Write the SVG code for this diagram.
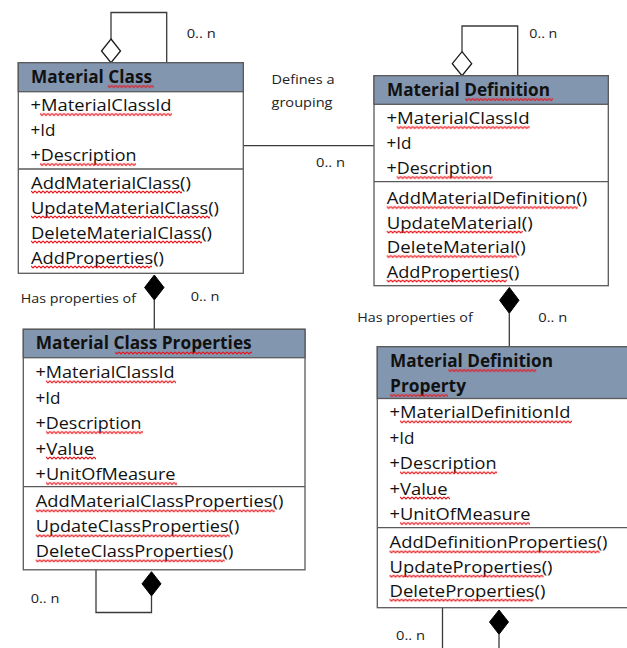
<svg xmlns="http://www.w3.org/2000/svg" width="627" height="648" viewBox="0 0 627 648">
  <defs>
    <!-- red wavy spell-check underline, tiled -->
    <pattern id="squig" width="4" height="4" patternUnits="userSpaceOnUse">
      <path d="M0,1 L2,3 L4,1" fill="none" stroke="#e8141a" stroke-width="1.1"/>
    </pattern>
    <style>
      .box { fill: #ffffff; stroke: #5a5a5a; stroke-width: 1.3; }
      .head { fill: #8396b0; stroke: #5a5a5a; stroke-width: 1.3; }
      .sep { stroke: #5a5a5a; stroke-width: 1.3; }
      .ln { fill: none; stroke: #3a3a3a; stroke-width: 1.3; }
      .agg { fill: #ffffff; stroke: #1a1a1a; stroke-width: 1.3; }
      .comp { fill: #000000; stroke: #000000; stroke-width: 1; }
      text { font-family: "Open Sans", "Liberation Sans", sans-serif; fill: #111111; }
      .h { font-size: 17.5px; font-weight: bold; }
      .a { font-size: 16.8px; }
      .l { font-size: 13.5px; fill: #222222; }
      .sq { fill: url(#squig); }
    </style>
  </defs>

  <!-- connectors -->
  <g id="connectors">
    <polyline class="ln" points="111,39 111,12.5 166.7,12.5 166.7,62.7"/>
    <polygon class="agg" points="111,39 120.5,51 111,62.7 101.5,51"/>
    <polyline class="ln" points="462,51.7 462,26 517.7,26 517.7,75.7"/>
    <polygon class="agg" points="462,51.7 471.7,63.7 462,75.7 452.3,63.7"/>
    <line class="ln" x1="243.3" y1="145.7" x2="374" y2="145.7"/>
    <line class="ln" x1="154.3" y1="300" x2="154.3" y2="329.3"/>
    <polygon class="comp" points="154.3,275 164,287.5 154.3,300 144.6,287.5"/>
    <line class="ln" x1="509.3" y1="313.3" x2="509.3" y2="346.7"/>
    <polygon class="comp" points="509.3,287.5 519,300.3 509.3,313.3 499.6,300.3"/>
    <polyline class="ln" points="96,570 96,612.5 151.5,612.5 151.5,596"/>
    <polygon class="comp" points="151.5,571.7 161,583.8 151.5,596 142,583.8"/>
    <line class="ln" x1="442.5" y1="607.7" x2="442.5" y2="648"/>
    <line class="ln" x1="499" y1="634.3" x2="499" y2="648"/>
    <polygon class="comp" points="499,610 508.5,622 499,634.3 489.5,622"/>

    <text class="l" x="186.7" y="38" textLength="29" lengthAdjust="spacingAndGlyphs">0.. n</text>
    <text class="l" x="271.5" y="84.3" textLength="63" lengthAdjust="spacingAndGlyphs">Defines a</text>
    <text class="l" x="271.5" y="106.5" textLength="61" lengthAdjust="spacingAndGlyphs">grouping</text>
    <text class="l" x="316" y="166.7" textLength="29" lengthAdjust="spacingAndGlyphs">0.. n</text>
    <text class="l" x="529.3" y="38.3" textLength="28" lengthAdjust="spacingAndGlyphs">0.. n</text>
    <text class="l" x="20.7" y="303.3" textLength="115.3" lengthAdjust="spacingAndGlyphs">Has properties of</text>
    <text class="l" x="190.7" y="300.7" textLength="28.6" lengthAdjust="spacingAndGlyphs">0.. n</text>
    <text class="l" x="357.3" y="322.3" textLength="115.4" lengthAdjust="spacingAndGlyphs">Has properties of</text>
    <text class="l" x="538.3" y="322" textLength="29" lengthAdjust="spacingAndGlyphs">0.. n</text>
    <text class="l" x="30.7" y="602.7" textLength="28.6" lengthAdjust="spacingAndGlyphs">0.. n</text>
    <text class="l" x="396" y="640" textLength="29" lengthAdjust="spacingAndGlyphs">0.. n</text>
  </g>

  <!-- Material Class -->
  <g id="material-class">
    <rect class="box" x="18.3" y="62.7" width="225" height="210.6"/>
    <rect class="head" x="18.3" y="62.7" width="225" height="29"/>
    <line class="sep" x1="18.3" y1="169" x2="243.3" y2="169"/>
    <text class="h" x="31" y="82.8" textLength="121" lengthAdjust="spacingAndGlyphs">Material Class</text>
    <text class="a" x="30.5" y="111" textLength="141" lengthAdjust="spacingAndGlyphs">+MaterialClassId</text>
    <text class="a" x="30.5" y="136.3" textLength="25" lengthAdjust="spacingAndGlyphs">+Id</text>
    <text class="a" x="30.5" y="161" textLength="106" lengthAdjust="spacingAndGlyphs">+Description</text>
    <text class="a" x="31" y="188.5" textLength="160" lengthAdjust="spacingAndGlyphs">AddMaterialClass()</text>
    <text class="a" x="31" y="213.5" textLength="188" lengthAdjust="spacingAndGlyphs">UpdateMaterialClass()</text>
    <text class="a" x="31" y="238.5" textLength="181" lengthAdjust="spacingAndGlyphs">DeleteMaterialClass()</text>
    <text class="a" x="31" y="263.5" textLength="133" lengthAdjust="spacingAndGlyphs">AddProperties()</text>
    <rect class="sq" x="0" y="0" width="46" height="4" transform="translate(107.7,84.5)"/>
    <rect class="sq" x="0" y="0" width="132" height="4" transform="translate(40,112.5)"/>
    <rect class="sq" x="0" y="0" width="96" height="4" transform="translate(40,162.5)"/>
    <rect class="sq" x="0" y="0" width="151" height="4" transform="translate(31,190)"/>
    <rect class="sq" x="0" y="0" width="179" height="4" transform="translate(31,215)"/>
    <rect class="sq" x="0" y="0" width="171" height="4" transform="translate(31,240)"/>
    <rect class="sq" x="0" y="0" width="121" height="4" transform="translate(31,265)"/>
  </g>

  <!-- Material Definition -->
  <g id="material-definition">
    <rect class="box" x="374" y="75.7" width="234.3" height="210"/>
    <rect class="head" x="374" y="75.7" width="234.3" height="28.6"/>
    <line class="sep" x1="374" y1="181.7" x2="608.3" y2="181.7"/>
    <text class="h" x="387" y="96.2" textLength="163" lengthAdjust="spacingAndGlyphs">Material Definition</text>
    <text class="a" x="386.5" y="124" textLength="143" lengthAdjust="spacingAndGlyphs">+MaterialClassId</text>
    <text class="a" x="386.5" y="149.3" textLength="25" lengthAdjust="spacingAndGlyphs">+Id</text>
    <text class="a" x="386.5" y="174" textLength="106" lengthAdjust="spacingAndGlyphs">+Description</text>
    <text class="a" x="386.7" y="204" textLength="200.5" lengthAdjust="spacingAndGlyphs">AddMaterialDefinition()</text>
    <text class="a" x="386.7" y="228.5" textLength="146" lengthAdjust="spacingAndGlyphs">UpdateMaterial()</text>
    <text class="a" x="386.7" y="253" textLength="139" lengthAdjust="spacingAndGlyphs">DeleteMaterial()</text>
    <text class="a" x="386.7" y="277.5" textLength="132.6" lengthAdjust="spacingAndGlyphs">AddProperties()</text>
    <rect class="sq" x="0" y="0" width="88" height="4" transform="translate(465,97.5)"/>
    <rect class="sq" x="0" y="0" width="133" height="4" transform="translate(396.7,125.5)"/>
    <rect class="sq" x="0" y="0" width="96" height="4" transform="translate(396.7,175.5)"/>
    <rect class="sq" x="0" y="0" width="191" height="4" transform="translate(386.7,205.5)"/>
    <rect class="sq" x="0" y="0" width="136" height="4" transform="translate(386.7,230)"/>
    <rect class="sq" x="0" y="0" width="130" height="4" transform="translate(386.7,254.5)"/>
    <rect class="sq" x="0" y="0" width="120" height="4" transform="translate(386.7,279)"/>
  </g>

  <!-- Material Class Properties -->
  <g id="material-class-properties">
    <rect class="box" x="23.3" y="329.3" width="281.7" height="240.5"/>
    <rect class="head" x="23.3" y="329.3" width="281.7" height="28.4"/>
    <line class="sep" x1="23.3" y1="486.7" x2="305" y2="486.7"/>
    <text class="h" x="35.7" y="349.2" textLength="216" lengthAdjust="spacingAndGlyphs">Material Class Properties</text>
    <text class="a" x="35.5" y="378.3" textLength="139" lengthAdjust="spacingAndGlyphs">+MaterialClassId</text>
    <text class="a" x="35.5" y="403.5" textLength="25" lengthAdjust="spacingAndGlyphs">+Id</text>
    <text class="a" x="35.5" y="429" textLength="106" lengthAdjust="spacingAndGlyphs">+Description</text>
    <text class="a" x="35.5" y="454.5" textLength="58.6" lengthAdjust="spacingAndGlyphs">+Value</text>
    <text class="a" x="35.5" y="480" textLength="140" lengthAdjust="spacingAndGlyphs">+UnitOfMeasure</text>
    <text class="a" x="35.7" y="507.3" textLength="247.6" lengthAdjust="spacingAndGlyphs">AddMaterialClassProperties()</text>
    <text class="a" x="35.7" y="532.3" textLength="203.6" lengthAdjust="spacingAndGlyphs">UpdateClassProperties()</text>
    <text class="a" x="35.7" y="557.3" textLength="197.6" lengthAdjust="spacingAndGlyphs">DeleteClassProperties()</text>
    <rect class="sq" x="0" y="0" width="137" height="4" transform="translate(115,351)"/>
    <rect class="sq" x="0" y="0" width="130" height="4" transform="translate(46,379.8)"/>
    <rect class="sq" x="0" y="0" width="97" height="4" transform="translate(46,430.5)"/>
    <rect class="sq" x="0" y="0" width="50" height="4" transform="translate(46,456)"/>
    <rect class="sq" x="0" y="0" width="131" height="4" transform="translate(46,481.5)"/>
    <rect class="sq" x="0" y="0" width="239" height="4" transform="translate(35.7,508.8)"/>
    <rect class="sq" x="0" y="0" width="194" height="4" transform="translate(35.7,533.8)"/>
    <rect class="sq" x="0" y="0" width="189" height="4" transform="translate(35.7,558.8)"/>
  </g>

  <!-- Material Definition Property -->
  <g id="material-definition-property">
    <rect class="box" x="377.3" y="346.7" width="270" height="261"/>
    <rect class="head" x="377.3" y="346.7" width="270" height="51.8"/>
    <line class="sep" x1="377.3" y1="527.7" x2="647.3" y2="527.7"/>
    <text class="h" x="390" y="366.9" textLength="163" lengthAdjust="spacingAndGlyphs">Material Definition</text>
    <text class="h" x="390" y="391.9" textLength="76" lengthAdjust="spacingAndGlyphs">Property</text>
    <text class="a" x="389.5" y="418.3" textLength="181" lengthAdjust="spacingAndGlyphs">+MaterialDefinitionId</text>
    <text class="a" x="389.5" y="444" textLength="25" lengthAdjust="spacingAndGlyphs">+Id</text>
    <text class="a" x="389.5" y="469.3" textLength="107" lengthAdjust="spacingAndGlyphs">+Description</text>
    <text class="a" x="389.5" y="494.5" textLength="58" lengthAdjust="spacingAndGlyphs">+Value</text>
    <text class="a" x="389.5" y="520" textLength="141" lengthAdjust="spacingAndGlyphs">+UnitOfMeasure</text>
    <text class="a" x="389.5" y="548.3" textLength="218" lengthAdjust="spacingAndGlyphs">AddDefinitionProperties()</text>
    <text class="a" x="389.5" y="572.7" textLength="163" lengthAdjust="spacingAndGlyphs">UpdateProperties()</text>
    <text class="a" x="389.5" y="596.7" textLength="156" lengthAdjust="spacingAndGlyphs">DeleteProperties()</text>
    <rect class="sq" x="0" y="0" width="88" height="4" transform="translate(448.3,368.5)"/>
    <rect class="sq" x="0" y="0" width="58" height="4" transform="translate(390,393.5)"/>
    <rect class="sq" x="0" y="0" width="172" height="4" transform="translate(400,419.8)"/>
    <rect class="sq" x="0" y="0" width="97" height="4" transform="translate(400,470.8)"/>
    <rect class="sq" x="0" y="0" width="50" height="4" transform="translate(400,496)"/>
    <rect class="sq" x="0" y="0" width="130" height="4" transform="translate(400,521.5)"/>
    <rect class="sq" x="0" y="0" width="210" height="4" transform="translate(389.5,549.8)"/>
    <rect class="sq" x="0" y="0" width="154" height="4" transform="translate(389.5,574.2)"/>
    <rect class="sq" x="0" y="0" width="144" height="4" transform="translate(389.5,598.2)"/>
  </g>
</svg>
